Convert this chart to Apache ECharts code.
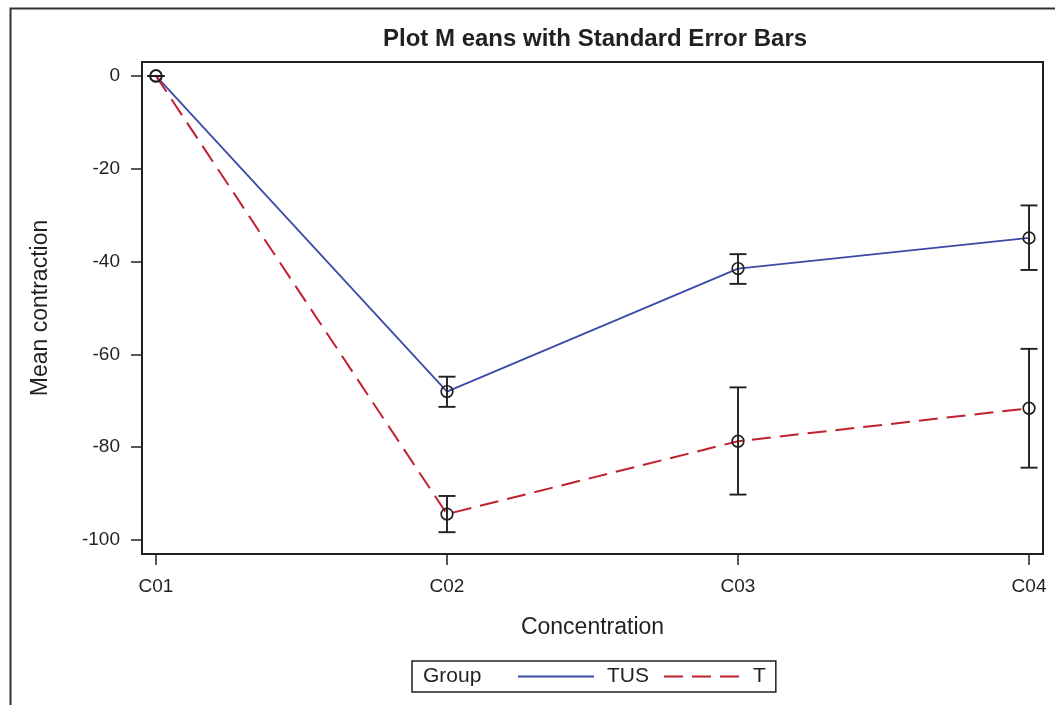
<!DOCTYPE html>
<html>
<head>
<meta charset="utf-8">
<script src="https://cdn.jsdelivr.net/npm/echarts@6/dist/echarts.min.js"></script>
<style>
	html, body { margin: 0; padding: 0; background: #fff; }
	#chart { width: 1055px; height: 705px; }
</style>
</head>
<body>
<div id="chart"></div>
<script>
	// categories on the x axis
	const categories = ["C01", "C02", "C03", "C04"]
	const yTicks = [0, -20, -40, -60, -80, -100]

	// group TUS: mean and standard error limits
	const tusMean = [0, -68.0, -41.5, -34.9]
	const tusLow = [0, -71.3, -44.8, -41.8]
	const tusHigh = [0, -64.8, -38.4, -27.9]

	// group T
	const tMean = [0, -94.4, -78.7, -71.6]
	const tLow = [0, -98.3, -90.2, -84.4]
	const tHigh = [0, -90.5, -67.1, -58.8]

	const font = "'Liberation Sans', Arial, sans-serif"
	const ink = "#231f20"

	function linePoints(means) {
		return means.map((v, i) => [i + 1, v])
	}
	function barPoints(means, low, high) {
		return means.map((v, i) => [i + 1, v, low[i], high[i]])
	}

	function renderBar(params, api) {
		const x = api.value(0)
		const mid = api.coord([x, api.value(1)])
		const lo = api.coord([x, api.value(2)])
		const hi = api.coord([x, api.value(3)])
		const cap = 8.5
		const style = { stroke: ink, lineWidth: 1.9, fill: null }
		return {
			type: "group",
			children: [
				{ type: "line", shape: { x1: lo[0], y1: lo[1], x2: hi[0], y2: hi[1] }, style },
				{ type: "line", shape: { x1: lo[0] - cap, y1: lo[1], x2: lo[0] + cap, y2: lo[1] }, style },
				{ type: "line", shape: { x1: hi[0] - cap, y1: hi[1], x2: hi[0] + cap, y2: hi[1] }, style },
				{ type: "circle", shape: { cx: mid[0], cy: mid[1], r: 5.8 }, style: { stroke: ink, lineWidth: 1.7, fill: null } }
			]
		}
	}

	const chart = echarts.init(document.getElementById("chart"))
	chart.setOption({
		animation: false,
		title: {
			text: "Plot M eans with Standard Error Bars",
			left: 378,
			top: 22,
			textStyle: { fontFamily: font, fontSize: 24, fontWeight: "bold", color: ink }
		},
		graphic: [
			{
				type: "rect",
				left: 8, top: 6,
				shape: { width: 1200, height: 800 },
				style: { fill: null, stroke: "#333", lineWidth: 2 },
				silent: true
			},
			{
				type: "text",
				left: 423, top: 666,
				style: { text: "Group", fontFamily: font, fontSize: 21, fill: ink },
				z: 100
			}
		],
		grid: {
			left: 142,
			right: 12,
			top: 62,
			bottom: 151,
			show: true,
			borderColor: ink,
			borderWidth: 2
		},
		legend: {
			data: ["TUS", "T"],
			left: 412,
			top: 661,
			padding: [5, 10, 5, 105],
			borderColor: ink,
			borderWidth: 1.5,
			itemWidth: 76,
			itemHeight: 14,
			itemGap: 14,
			itemStyle: { opacity: 0 },
			textStyle: { fontFamily: font, fontSize: 21, color: ink, padding: [0, 0, 0, 8] }
		},
		xAxis: {
			type: "value",
			min: 0.952,
			max: 4.048,
			name: "Concentration",
			nameLocation: "middle",
			nameGap: 62,
			nameTextStyle: { fontFamily: font, fontSize: 23, color: ink },
			splitLine: { show: false },
			axisLine: { show: false, onZero: false },
			axisTick: { show: true, length: 11, lineStyle: { color: ink, width: 1.5 }, customValues: [1, 2, 3, 4] },
			axisLabel: {
				customValues: [1, 2, 3, 4],
				formatter: (v) => categories[Math.round(v) - 1],
				margin: 23,
				fontFamily: font,
				fontSize: 19,
				color: ink
			}
		},
		yAxis: {
			type: "value",
			min: -103,
			max: 3,
			name: "Mean contraction",
			nameLocation: "middle",
			nameGap: 90,
			nameTextStyle: { fontFamily: font, fontSize: 23, color: ink },
			splitLine: { show: false },
			axisLine: { show: false, onZero: false },
			axisTick: { show: true, length: 11, lineStyle: { color: ink, width: 1.5 }, customValues: yTicks },
			axisLabel: {
				customValues: yTicks,
				margin: 22,
				fontFamily: font,
				fontSize: 19,
				color: ink
			}
		},
		series: [
			{
				name: "TUS",
				type: "line",
				data: linePoints(tusMean),
				symbol: "none",
				lineStyle: { color: "#3a4aa6", width: 1.8 },
				itemStyle: { color: "#3a4aa6" }
			},
			{
				name: "T",
				type: "line",
				data: linePoints(tMean),
				symbol: "none",
				lineStyle: { color: "#c1202f", width: 2, type: [19, 9] },
				itemStyle: { color: "#c1202f" }
			},
			{
				name: "TUS bars",
				type: "custom",
				renderItem: renderBar,
				data: barPoints(tusMean, tusLow, tusHigh),
				z: 5
			},
			{
				name: "T bars",
				type: "custom",
				renderItem: renderBar,
				data: barPoints(tMean, tLow, tHigh),
				z: 5
			}
		]
	})
</script>
</body>
</html>
